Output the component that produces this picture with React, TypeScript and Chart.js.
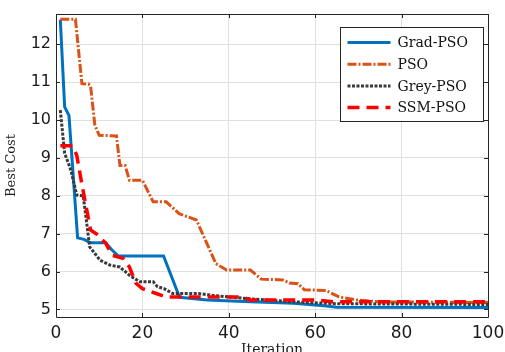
import React, { useEffect, useRef } from "react";
import { Chart, registerables } from "chart.js";

Chart.register(...registerables);

const xTicks = [0, 20, 40, 60, 80, 100];
const yTicks = [5, 6, 7, 8, 9, 10, 11, 12];

const seriesLabels = ["Grad-PSO", "PSO", "Grey-PSO", "SSM-PSO"];

const gradIter = [1, 2, 3, 5, 6.5, 8, 11.5, 12.8, 14.4, 24.9, 28.6, 35, 45, 55, 62, 65, 100];
const gradCost = [12.65, 10.35, 10.12, 6.89, 6.85, 6.76, 6.76, 6.59, 6.41, 6.41, 5.32, 5.25, 5.2, 5.16, 5.1, 5.06, 5.05];

const psoIter = [1, 4.5, 6, 7.5, 8, 9, 10, 14, 14.8, 16, 17, 20, 22.5, 25.5, 28.5, 32.5, 37, 39.5, 45, 47.5, 52.5, 54, 56, 57.5, 62.5, 65.5, 69.5, 75, 100];
const psoCost = [12.66, 12.66, 10.96, 10.95, 10.9, 9.86, 9.6, 9.58, 8.8, 8.8, 8.41, 8.41, 7.84, 7.84, 7.53, 7.36, 6.21, 6.04, 6.04, 5.8, 5.78, 5.7, 5.68, 5.52, 5.5, 5.33, 5.25, 5.2, 5.18];

const greyIter = [1, 2, 3.2, 3.6, 4.8, 6.3, 7.8, 10.2, 12.5, 14.8, 17, 19.4, 22.5, 23.5, 25, 27, 33, 37, 45, 55, 65, 100];
const greyCost = [10.26, 9.12, 8.76, 8.6, 8.02, 8.0, 6.65, 6.3, 6.17, 6.12, 5.9, 5.73, 5.73, 5.6, 5.55, 5.42, 5.42, 5.36, 5.28, 5.2, 5.15, 5.13];

const ssmIter = [1, 3.8, 4.8, 6, 7, 8, 9.5, 11.5, 13, 15.5, 17, 18.5, 20, 23.2, 25.5, 43, 45, 60, 64, 100];
const ssmCost = [9.32, 9.32, 9.07, 8.3, 7.7, 7.1, 6.98, 6.75, 6.43, 6.35, 6.12, 5.69, 5.55, 5.42, 5.33, 5.33, 5.25, 5.25, 5.2, 5.2];

const toPoints = (xs: number[], ys: number[]) => xs.map((x, i) => ({ x, y: ys[i] }));

const frameColor = "#262626";

const framePlugin = {
  id: "matlabFrame",
  afterDatasetsDraw(chart: any) {
    const { ctx, chartArea: a, scales } = chart;
    const tl = 4;
    ctx.save();
    ctx.strokeStyle = frameColor;
    ctx.lineWidth = 1;
    ctx.beginPath();
    ctx.rect(Math.round(a.left) + 0.5, Math.round(a.top) + 0.5, Math.round(a.right - a.left), Math.round(a.bottom - a.top));
    ctx.stroke();
    ctx.beginPath();
    for (const v of xTicks) {
      const px = Math.round(scales.x.getPixelForValue(v)) + 0.5;
      ctx.moveTo(px, a.bottom);
      ctx.lineTo(px, a.bottom - tl);
      ctx.moveTo(px, a.top);
      ctx.lineTo(px, a.top + tl);
    }
    for (const v of yTicks) {
      const py = Math.round(scales.y.getPixelForValue(v)) + 0.5;
      ctx.moveTo(a.left, py);
      ctx.lineTo(a.left + tl, py);
      ctx.moveTo(a.right, py);
      ctx.lineTo(a.right - tl, py);
    }
    ctx.stroke();
    ctx.restore();
  },
};

const legendPlugin = {
  id: "boxLegend",
  afterDraw(chart: any) {
    const { ctx, chartArea: a } = chart;
    const w = 143;
    const h = 94;
    const x0 = Math.round(a.right - 5 - w) + 0.5;
    const y0 = Math.round(a.top + 13) + 0.5;
    ctx.save();
    ctx.fillStyle = "#ffffff";
    ctx.fillRect(x0, y0, w, h);
    ctx.strokeStyle = frameColor;
    ctx.lineWidth = 1;
    ctx.strokeRect(x0, y0, w, h);
    chart.data.datasets.forEach((ds: any, i: number) => {
      const cy = y0 + 15 + i * 21.7;
      ctx.save();
      ctx.strokeStyle = ds.borderColor;
      ctx.lineWidth = ds.borderWidth;
      ctx.setLineDash(ds.borderDash || []);
      ctx.beginPath();
      ctx.moveTo(x0 + 7, cy);
      ctx.lineTo(x0 + 50, cy);
      ctx.stroke();
      ctx.restore();
      ctx.fillStyle = "#111111";
      ctx.font = "14px 'DejaVu Serif'";
      ctx.textBaseline = "middle";
      ctx.textAlign = "left";
      ctx.fillText(ds.label, x0 + 57, cy + 1);
    });
    ctx.restore();
  },
};

export default function App() {
  const ref = useRef<HTMLCanvasElement | null>(null);

  useEffect(() => {
    if (!ref.current) return;
    const chart = new Chart(ref.current, {
      type: "line",
      data: {
        datasets: [
          {
            label: seriesLabels[0],
            data: toPoints(gradIter, gradCost),
            borderColor: "#0072BD",
            borderWidth: 3,
            order: 4,
          },
          {
            label: seriesLabels[1],
            data: toPoints(psoIter, psoCost),
            borderColor: "#D95319",
            borderWidth: 3,
            borderDash: [9, 2, 2, 2],
            order: 3,
          },
          {
            label: seriesLabels[2],
            data: toPoints(greyIter, greyCost),
            borderColor: "#3a3a3a",
            borderWidth: 3,
            borderDash: [3, 1.5],
            order: 2,
          },
          {
            label: seriesLabels[3],
            data: toPoints(ssmIter, ssmCost),
            borderColor: "#FF0000",
            borderWidth: 3.5,
            borderDash: [12, 7],
            order: 1,
          },
        ] as any,
      },
      options: {
        animation: false,
        responsive: false,
        elements: { point: { radius: 0 }, line: { tension: 0 } },
        layout: { padding: { top: 14, right: 17, left: 0, bottom: 0 } },
        plugins: { legend: { display: false }, tooltip: { enabled: false } },
        scales: {
          x: {
            type: "linear",
            min: 0,
            max: 100,
            afterBuildTicks: (s: any) => {
              s.ticks = xTicks.map((v) => ({ value: v }));
            },
            afterFit: (s: any) => {
              s.height = 49;
              s.paddingLeft = 0;
              s.paddingRight = 0;
            },
            border: { display: false },
            grid: { color: "#e0e0e0", lineWidth: 1, drawTicks: false },
            ticks: {
              color: "#1a1a1a",
              padding: 6,
              font: { family: "'DejaVu Sans'", size: 17 },
            },
            title: {
              display: true,
              text: "Iteration",
              color: "#1a1a1a",
              font: { family: "'DejaVu Serif'", size: 14 },
              padding: { top: 0, bottom: 7 },
            },
          },
          y: {
            type: "linear",
            min: 4.8,
            max: 12.8,
            afterBuildTicks: (s: any) => {
              s.ticks = yTicks.map((v) => ({ value: v }));
            },
            afterFit: (s: any) => {
              s.width = 56;
              s.paddingTop = 0;
              s.paddingBottom = 0;
            },
            border: { display: false },
            grid: { color: "#e0e0e0", lineWidth: 1, drawTicks: false },
            ticks: {
              color: "#1a1a1a",
              padding: 5,
              font: { family: "'DejaVu Sans'", size: 16 },
            },
            title: {
              display: true,
              text: "Best Cost",
              color: "#1a1a1a",
              font: { family: "'DejaVu Serif'", size: 13 },
              padding: { top: 4, bottom: 0 },
            },
          },
        },
      },
      plugins: [framePlugin, legendPlugin],
    } as any);
    return () => chart.destroy();
  }, []);

  return (
    <div style={{ position: "fixed", left: 0, top: 0, width: 505, height: 352, overflow: "hidden", background: "#fff" }}>
      <canvas ref={ref} width={505} height={366} style={{ width: 505, height: 366, display: "block" }} />
    </div>
  );
}
